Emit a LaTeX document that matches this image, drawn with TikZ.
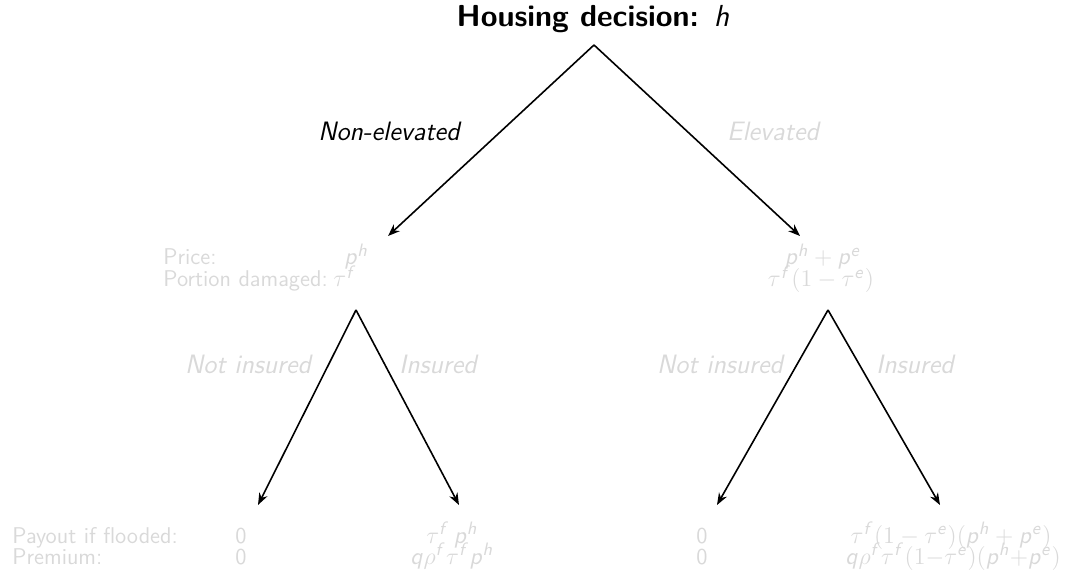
\documentclass[tikz,border=0pt]{standalone}
\usetikzlibrary{arrows.meta}
\DeclareMathAlphabet{\mathsfit}{OT1}{cmss}{m}{sl}
\DeclareMathSizes{12}{12}{9}{7}
\newcommand\sv[1]{\mathsfit{#1}}
\begin{document}
\begin{tikzpicture}[x=0.5pt,y=-0.5pt,
  every node/.style={inner sep=0pt, font=\sffamily\fontsize{11.4}{11}\selectfont},
  mth/.style={font=\sffamily\fontsize{12}{12}\selectfont},
  br/.style={line width=0.8pt,-{Stealth[length=6pt,width=4.5pt]}},
  lbl/.style={font=\sffamily\itshape\fontsize{13.3}{15}\selectfont},
  gr/.style={text=black!15}]
\useasboundingbox (0,0) rectangle (1066,577);
% title
\node[font=\sffamily\bfseries\fontsize{15.2}{17}\selectfont] (title) at (593,19) {Housing decision: \textit{\mdseries h}};
\coordinate (r) at (594,45);
\coordinate (ml) at (388,236);
\coordinate (mr) at (800,236);
\draw[br] (r) -- (ml);
\draw[br] (r) -- (mr);
\node[lbl] (lne) at (389,131) {Non-elevated};
\node[lbl,gr] (lel) at (773,131) {Elevated};
% middle left
\node[gr,anchor=base west] (price) at (163,265) {Price:};
\node[gr,anchor=base west] (port) at (163,287) {Portion damaged:};
\node[gr,mth,anchor=base west] (pl1) at (344,265) {$\sv{p}^{\sv{h}}$};
\node[gr,mth,anchor=base west] (pl2) at (333,287) {$\tau^{\sv{f}}$};
% middle right
\node[gr,mth,anchor=base] (pr1) at (823,265) {$\sv{p}^{\sv{h}}+\sv{p}^{\sv{e}}$};
\node[gr,mth,anchor=base] (pr2) at (821,287) {$\tau^{\sv{f}}(1-\tau^{\sv{e}})$};
% second level
\coordinate (al) at (356,310);
\coordinate (ar) at (828,310);
\coordinate (bl1) at (258,505);
\coordinate (bl2) at (459,505);
\coordinate (br1) at (717,505);
\coordinate (br2) at (940,505);
\draw[br] (al) -- (bl1);
\draw[br] (al) -- (bl2);
\draw[br] (ar) -- (br1);
\draw[br] (ar) -- (br2);
\node[lbl,gr] (lni) at (248,364) {Not insured};
\node[lbl,gr] (lin) at (438,364) {Insured};
\node[lbl,gr] (rni) at (720,364) {Not insured};
\node[lbl,gr] (rin) at (915,364) {Insured};
% bottom
\node[gr,anchor=base west] (pay) at (12,543) {Payout if flooded:};
\node[gr,anchor=base west] (prem) at (12,564) {Premium:};
\node[gr,anchor=base west] (z1) at (235,543) {0};
\node[gr,anchor=base west] (z2) at (235,564) {0};
\node[gr,mth,anchor=base] (c1) at (452,543) {$\tau^{\sv{f}}\,\sv{p}^{\sv{h}}$};
\node[gr,mth,anchor=base] (c2) at (452,564) {$\sv{q}\rho^{\sv{f}}\tau^{\sv{f}}\sv{p}^{\sv{h}}$};
\node[gr,anchor=base west] (z3) at (696,543) {0};
\node[gr,anchor=base west] (z4) at (696,564) {0};
\node[gr,mth,anchor=base] (d1) at (951,543) {$\tau^{\sv{f}}(1-\tau^{\sv{e}})(\sv{p}^{\sv{h}}+\sv{p}^{\sv{e}})$};
\node[gr,mth,anchor=base] (d2) at (953,564) {$\sv{q}\rho^{\sv{f}}\tau^{\sv{f}}(1{-}\tau^{\sv{e}})(\sv{p}^{\sv{h}}{+}\sv{p}^{\sv{e}})$};
\end{tikzpicture}
\end{document}
